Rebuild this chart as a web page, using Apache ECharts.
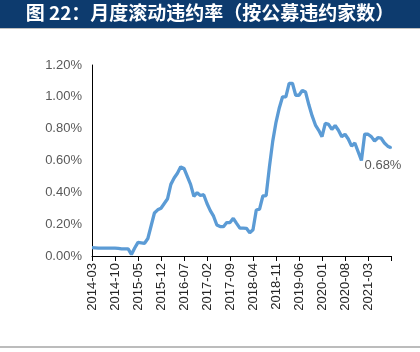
<!DOCTYPE html>
<html>
<head>
    <meta charset="utf-8">
    <style>
        body { margin: 0; background-color: #fff; }
        #main { width: 420px; height: 352px; }
    </style>
</head>
<body>
    <div id="main"></div>
    <script src="https://cdn.jsdelivr.net/npm/echarts@6/dist/echarts.min.js"></script>
    <script type="text/javascript">
        var titleText = '图 22：月度滚动违约率（按公募违约家数）';

        // months 2014-03 .. 2021-10
        var months = [];
        for (var y = 2014, m = 3; months.length < 92; m++) {
            if (m > 12) { m = 1; y++; }
            months.push(y + '-' + (m < 10 ? '0' + m : m));
        }

        // default rate, %
        var rates = [
            0.052, 0.051, 0.050, 0.050, 0.050, 0.050, 0.049, 0.049, 0.048, 0.045,
            0.045, 0.045, 0.010, 0.050, 0.086, 0.083, 0.080, 0.110, 0.190, 0.270,
            0.290, 0.300, 0.330, 0.360, 0.450, 0.490, 0.520, 0.560, 0.550, 0.500,
            0.450, 0.375, 0.398, 0.380, 0.385, 0.330, 0.285, 0.250, 0.195, 0.185,
            0.184, 0.210, 0.210, 0.237, 0.205, 0.175, 0.175, 0.174, 0.146, 0.165,
            0.289, 0.295, 0.377, 0.380, 0.560, 0.720, 0.840, 0.930, 1.000, 1.000,
            1.085, 1.085, 1.010, 1.010, 1.040, 1.030, 0.950, 0.880, 0.823, 0.790,
            0.750, 0.833, 0.827, 0.795, 0.820, 0.790, 0.750, 0.765, 0.735, 0.690,
            0.710, 0.655, 0.600, 0.766, 0.765, 0.750, 0.722, 0.743, 0.740, 0.710,
            0.690, 0.680
        ];

        var myChart = echarts.init(document.getElementById('main'));

        var seriesData = rates.map(function (v, i) {
            if (i === rates.length - 1) {
                return {
                    value: v,
                    symbol: 'circle',
                    symbolSize: 2,
                    itemStyle: { color: '#5b9bd5' },
                    label: {
                        show: true,
                        position: 'bottom',
                        distance: 10,
                        offset: [-8, 0],
                        formatter: function (p) { return p.value.toFixed(2) + '%'; },
                        color: '#595959',
                        fontSize: 13,
                        fontFamily: 'Liberation Sans'
                    }
                };
            }
            return v;
        });

        var option = {
            backgroundColor: '#fff',
            animation: false,
            graphic: [
                {
                    type: 'rect',
                    shape: { x: 0, y: 0, width: 420, height: 28 },
                    style: { fill: '#0d3b6e' }
                },
                {
                    type: 'line',
                    shape: { x1: 0, y1: 28.5, x2: 420, y2: 28.5 },
                    style: { stroke: '#bfbfbf', lineWidth: 1 }
                },
                {
                    type: 'text',
                    left: 'center',
                    top: 3,
                    style: {
                        text: titleText,
                        fill: '#fff',
                        font: 'bold 19px "Noto Sans CJK SC"'
                    }
                },
                {
                    type: 'line',
                    shape: { x1: 0, y1: 347, x2: 420, y2: 347 },
                    style: { stroke: '#a6a6a6', lineWidth: 1.5 }
                }
            ],
            grid: {
                left: 92,
                right: 29,
                top: 65,
                bottom: 96
            },
            xAxis: {
                type: 'category',
                data: months,
                boundaryGap: false,
                axisLine: { lineStyle: { color: '#000', width: 1 } },
                axisTick: {
                    interval: 6,
                    length: 5,
                    lineStyle: { color: '#000' }
                },
                axisLabel: {
                    interval: 6,
                    rotate: 90,
                    color: '#262626',
                    fontSize: 13,
                    fontFamily: 'Liberation Sans',
                    margin: 7,
                    formatter: function (value, index) {
                        return index === months.length - 1 ? '' : value;
                    }
                }
            },
            yAxis: {
                type: 'value',
                min: 0,
                max: 1.2,
                interval: 0.2,
                axisLine: { show: true, lineStyle: { color: '#000', width: 1 } },
                axisTick: { show: false },
                splitLine: { show: false },
                axisLabel: {
                    color: '#595959',
                    fontSize: 13,
                    fontFamily: 'Liberation Sans',
                    margin: 10,
                    formatter: function (v) {
                        return v.toFixed(2) + '%';
                    }
                }
            },
            series: [
                {
                    type: 'line',
                    data: seriesData,
                    symbol: 'none',
                    showSymbol: true,
                    showAllSymbol: true,
                    lineStyle: { color: '#5b9bd5', width: 3.3 },
                    itemStyle: { color: '#5b9bd5' }
                }
            ]
        };

        myChart.setOption(option);
    </script>
</body>
</html>
